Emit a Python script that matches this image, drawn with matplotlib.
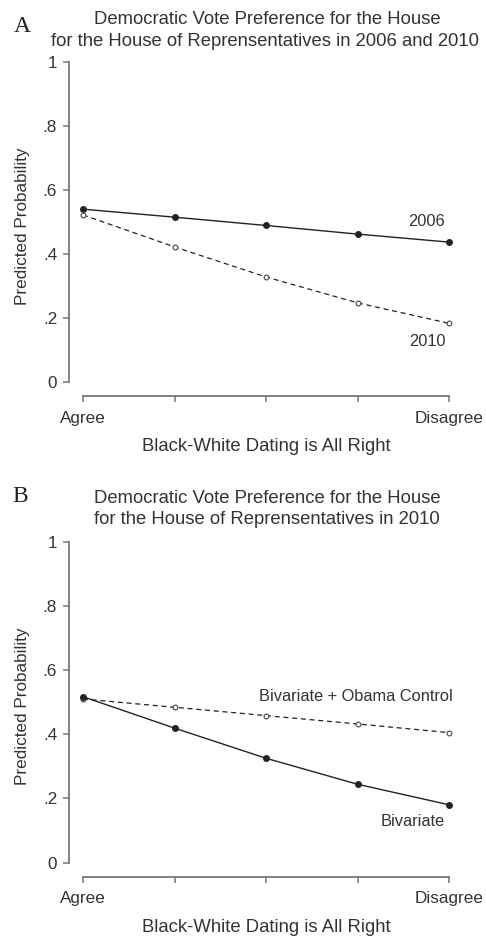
import matplotlib
matplotlib.use("Agg")
import matplotlib.pyplot as plt

# Predicted probabilities at five levels of the dating item
niveis = [0, 1, 2, 3, 4]
rotulos_x = ["Agree", "", "", "", "Disagree"]
ticks_y = [0, 0.2, 0.4, 0.6, 0.8, 1.0]
rotulos_y = ["0", ".2", ".4", ".6", ".8", "1"]

prob_2006 = [0.540, 0.515, 0.489, 0.462, 0.437]
prob_2010 = [0.522, 0.422, 0.328, 0.247, 0.183]

prob_bivariado = [0.517, 0.419, 0.325, 0.244, 0.180]
prob_obama = [0.510, 0.484, 0.458, 0.432, 0.405]

plt.rcParams["font.family"] = ["Liberation Sans", "DejaVu Sans"]
plt.rcParams["font.size"] = 12.3

texto = "#333333"
eixo = "#777777"
linha = "#222222"
fs_titulo = 13.3
fs_nota = 11.8

W, H = 486, 939
fig = plt.figure(figsize=(W / 100, H / 100), dpi=100)


def monta_eixo(y_spine, y_topo):
    esq, dir = 69, 463
    ax = fig.add_axes([esq / W, 1 - y_spine / H, (dir - esq) / W, (y_spine - y_topo) / H])
    ax.set_xlim(-0.153, 4.15)
    ax.set_ylim(-0.044, 1.02)
    for s in ["top", "right"]:
        ax.spines[s].set_visible(False)
    ax.spines["left"].set_bounds(0, 1)
    ax.spines["bottom"].set_bounds(0, 4)
    for s in ["left", "bottom"]:
        ax.spines[s].set_color(eixo)
        ax.spines[s].set_linewidth(1.3)
    ax.set_xticks(niveis)
    ax.set_xticklabels(rotulos_x)
    ax.set_yticks(ticks_y)
    ax.set_yticklabels(rotulos_y)
    ax.tick_params(colors=eixo, labelcolor=texto, width=1.1, length=4.5)
    ax.tick_params(axis="y", pad=4)
    ax.tick_params(axis="x", pad=6)
    ax.set_ylabel("Predicted Probability", color=texto, labelpad=9)
    ax.set_xlabel("Black-White Dating is All Right", color=texto, labelpad=9,
                  fontsize=fs_titulo)
    return ax


# Painel A
ax1 = monta_eixo(396, 55.6)
ax1.plot(niveis, prob_2006, "-", color=linha, lw=1.0, marker="o", ms=4,
         mfc=linha, mec=linha)
ax1.plot(niveis, prob_2010, "--", color=linha, lw=0.9, dashes=(4, 3), marker="o",
         ms=3.4, mfc="white", mec="#555555", mew=0.9)
ax1.text(3.956, 0.503, "2006", ha="right", va="center", color=texto, fontsize=fs_nota)
ax1.text(3.956, 0.125, "2010", ha="right", va="center", color=texto, fontsize=fs_nota)

fig.text(267 / W, 1 - 20 / H, "Democratic Vote Preference for the House",
         ha="center", va="center", color=texto, fontsize=fs_titulo)
fig.text(265 / W, 1 - 41 / H, "for the House of Reprensentatives in 2006 and 2010",
         ha="center", va="center", color=texto, fontsize=fs_titulo)
fig.text(22 / W, 1 - 26 / H, "A", ha="center", va="center", color="#222222",
         family="Liberation Serif", fontsize=17)

# Painel B
ax2 = monta_eixo(876.7, 535.3)
ax2.plot(niveis, prob_obama, "--", color=linha, lw=0.9, dashes=(4, 3), marker="o",
         ms=3.4, mfc="white", mec="#555555", mew=0.9)
ax2.plot(niveis, prob_bivariado, "-", color=linha, lw=1.0, marker="o", ms=4,
         mfc=linha, mec=linha)
ax2.text(4.04, 0.519, "Bivariate + Obama Control", ha="right", va="center",
         color=texto, fontsize=fs_nota)
ax2.text(3.956, 0.127, "Bivariate", ha="right", va="center", color=texto,
         fontsize=fs_nota)

fig.text(94 / W, 1 - 499 / H, "Democratic Vote Preference for the House",
         ha="left", va="center", color=texto, fontsize=fs_titulo)
fig.text(94 / W, 1 - 519 / H, "for the House of Reprensentatives in 2010",
         ha="left", va="center", color=texto, fontsize=fs_titulo)
fig.text(20 / W, 1 - 497 / H, "B", ha="center", va="center", color="#222222",
         family="Liberation Serif", fontsize=17)

fig.savefig("out.png", dpi=100)
